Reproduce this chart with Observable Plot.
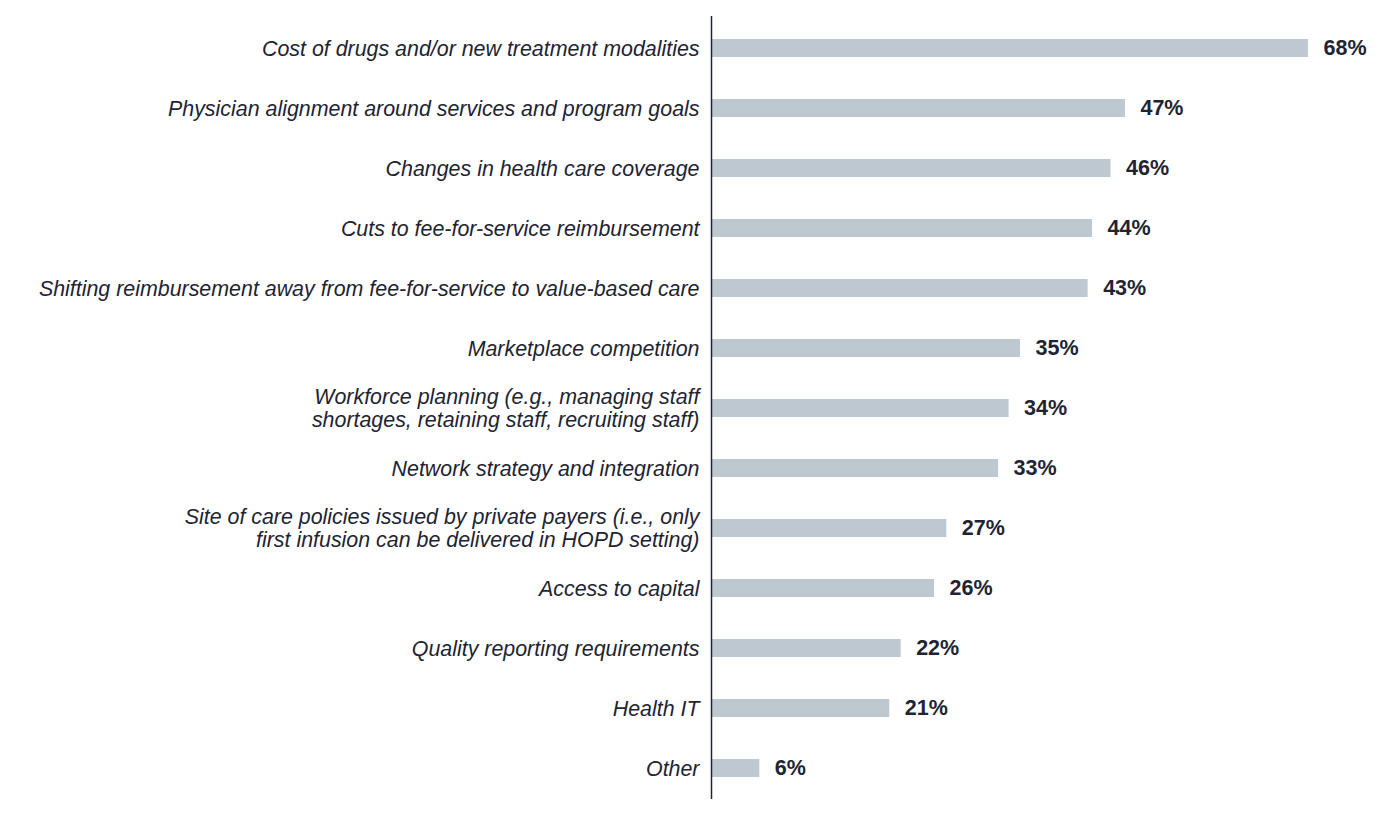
<!DOCTYPE html>
<html>
<head>
<meta charset="utf-8">
<script src="https://cdn.jsdelivr.net/npm/d3@7"></script>
<script src="https://cdn.jsdelivr.net/npm/@observablehq/plot@0.6"></script>
<style>
  html, body { margin: 0; padding: 0; background: #fff; }
  #chart svg { display: block; }
</style>
</head>
<body>
<div id="chart"></div>
<script>
const categories = [
  "Cost of drugs and/or new treatment modalities",
  "Physician alignment around services and program goals",
  "Changes in health care coverage",
  "Cuts to fee-for-service reimbursement",
  "Shifting reimbursement away from fee-for-service to value-based care",
  "Marketplace competition",
  "Workforce planning (e.g., managing staff\nshortages, retaining staff, recruiting staff)",
  "Network strategy and integration",
  "Site of care policies issued by private payers (i.e., only\nfirst infusion can be delivered in HOPD setting)",
  "Access to capital",
  "Quality reporting requirements",
  "Health IT",
  "Other"
];
// bar lengths as drawn in the picture (percent)
const values = [68, 47.15, 45.5, 43.4, 42.9, 35.2, 33.9, 32.7, 26.8, 25.4, 21.6, 20.3, 5.5];
// printed value labels
const valueLabels = ["68%", "47%", "46%", "44%", "43%", "35%", "34%", "33%", "27%", "26%", "22%", "21%", "6%"];

const data = categories.map((c, i) => ({category: c, value: values[i], label: valueLabels[i]}));
const textColor = "#1e2432";

const chart = Plot.plot({
  width: 1400,
  height: 818,
  marginLeft: 711,
  marginRight: 92,
  marginTop: 16,
  marginBottom: 19,
  style: {fontFamily: "Liberation Sans, Arial, sans-serif", background: "#fff"},
  x: {domain: [0, 68], axis: null},
  y: {domain: categories, axis: null, paddingInner: 0.7, paddingOuter: 0.35},
  marks: [
    Plot.barX(data, {x: "value", y: "category", fill: "#bec8d0"}),
    Plot.ruleX([0], {stroke: "#1e2432", strokeWidth: 1.5}),
    Plot.text(data, {x: 0, y: "category", text: "category", textAnchor: "end", dx: -12,
      fontSize: 21.4, fontStyle: "italic", fill: textColor, lineHeight: 1.08}),
    Plot.text(data, {x: "value", y: "category", text: "label", textAnchor: "start", dx: 15,
      fontSize: 21.5, fontWeight: "bold", fill: textColor})
  ]
});
document.getElementById("chart").appendChild(chart);
</script>
</body>
</html>
